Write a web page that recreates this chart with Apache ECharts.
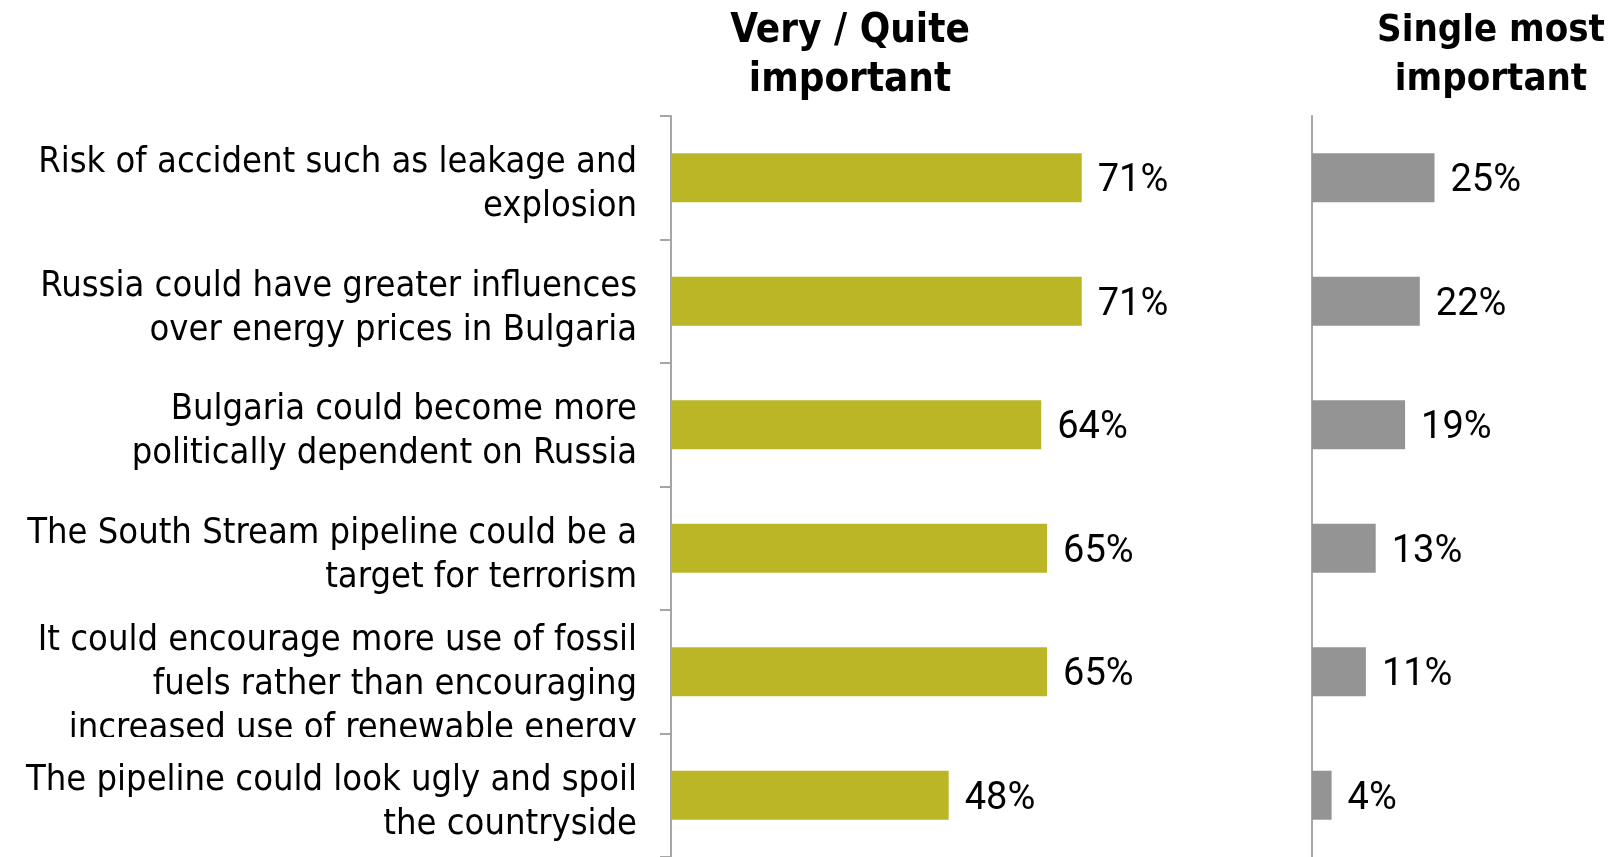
<!DOCTYPE html>
<html>
<head>
<meta charset="utf-8">
<script src="https://cdn.jsdelivr.net/npm/echarts@6/dist/echarts.min.js"></script>
<style>
  html, body { margin: 0; padding: 0; background: #ffffff; }
  #chart { width: 1610px; height: 857px; }
</style>
</head>
<body>
<div id="chart"></div>
<script>
// Concerns about the South Stream pipeline
const categories = [
  'Risk of accident such as leakage and\nexplosion',
  'Russia could have greater influences\nover energy prices in Bulgaria',
  'Bulgaria could become more\npolitically dependent on Russia',
  'The South Stream pipeline could be a\ntarget for terrorism',
  'It could encourage more use of fossil\nfuels rather than encouraging\nincreased use of renewable energy',
  'The pipeline could look ugly and spoil\nthe countryside'
];
const veryQuiteImportant = [71, 71, 64, 65, 65, 48];
const singleMostImportant = [25, 22, 19, 13, 11, 4];
const panelTitles = ['Very / Quite\nimportant', 'Single most\nimportant'];

const labelFont = "'DejaVu Sans Condensed', 'DejaVu Sans', sans-serif";
const valueFont = "Roboto, 'DejaVu Sans Condensed', sans-serif";
const axisGrey = '#a6a6a6';

const chart = echarts.init(document.getElementById('chart'), null, { renderer: 'canvas' });

const valueLabel = {
  show: true,
  position: 'right',
  distance: 16,
  offset: [0, 4],
  formatter: '{c}%',
  color: '#000000',
  fontFamily: valueFont,
  fontSize: 38
};

chart.setOption({
  animation: false,
  backgroundColor: '#ffffff',
  grid: [
    { left: 671, top: 116, width: 578.5, height: 744, containLabel: false },
    { left: 1312, top: 116, width: 294, height: 744, containLabel: false }
  ],
  xAxis: [
    { gridIndex: 0, type: 'value', min: 0, max: 100, show: false },
    { gridIndex: 1, type: 'value', min: 0, max: 60, show: false }
  ],
  yAxis: [
    {
      gridIndex: 0,
      type: 'category',
      inverse: true,
      data: categories,
      axisLine: { show: true, lineStyle: { color: axisGrey, width: 2 } },
      axisTick: { show: true, length: 11, inside: false, lineStyle: { color: axisGrey, width: 2 } },
      axisLabel: {
        interval: 0,
        hideOverlap: false,
        margin: 34,
        color: '#000000',
        fontFamily: labelFont,
        fontSize: 36,
        lineHeight: 44,
        align: 'right',
        // a short empty first line nudges each label a little below the band centre;
        // the three-line label sits lower so its last line meets the next tick
        formatter: (value, index) => (index === 4 ? '{tall| }' : '{short| }') + '\n' + value,
        rich: {
          short: { fontSize: 8, lineHeight: 14 },
          tall: { fontSize: 8, lineHeight: 26 }
        }
      },
      splitLine: { show: false }
    },
    {
      gridIndex: 1,
      type: 'category',
      inverse: true,
      data: categories,
      axisLine: { show: true, lineStyle: { color: axisGrey, width: 2 } },
      axisTick: { show: false },
      axisLabel: { show: false },
      splitLine: { show: false }
    }
  ],
  series: [
    {
      type: 'bar',
      xAxisIndex: 0,
      yAxisIndex: 0,
      data: veryQuiteImportant,
      barWidth: 49,
      itemStyle: { color: '#bab626' },
      label: valueLabel
    },
    {
      type: 'bar',
      xAxisIndex: 1,
      yAxisIndex: 1,
      data: singleMostImportant,
      barWidth: 49,
      itemStyle: { color: '#949494' },
      label: valueLabel
    }
  ],
  graphic: [
    {
      type: 'text',
      x: 850,
      y: 7,
      z: 10,
      style: {
        text: panelTitles[0],
        textAlign: 'center',
        fontFamily: labelFont,
        fontWeight: 'bold',
        fontSize: 40,
        lineHeight: 49,
        fill: '#000000'
      }
    },
    {
      type: 'text',
      x: 1491,
      y: 7,
      z: 10,
      style: {
        text: panelTitles[1],
        textAlign: 'center',
        fontFamily: labelFont,
        fontWeight: 'bold',
        fontSize: 38,
        lineHeight: 49,
        fill: '#000000'
      }
    },
    {
      // the label text box ends at the tick, cutting off the last line
      type: 'rect',
      z: 100,
      shape: { x: 0, y: 737, width: 645, height: 18 },
      style: { fill: '#ffffff' }
    }
  ]
});
</script>
</body>
</html>
